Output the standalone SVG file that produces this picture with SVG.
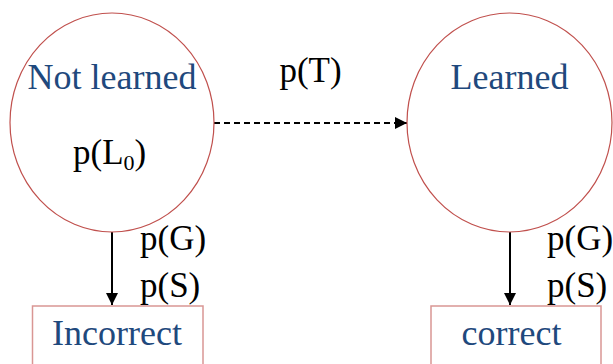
<svg xmlns="http://www.w3.org/2000/svg" width="613" height="364" viewBox="0 0 613 364">
<defs>
<style>
.state{fill:#ffffff;stroke:#c0504d;stroke-width:1.2}
.box{fill:#ffffff;stroke:#d99694;stroke-width:1.5}
.lbl{font-family:'Liberation Serif','Times New Roman',Times,serif;font-size:36px;fill:#1f497d;text-anchor:middle}
.prob{font-family:'Liberation Serif','Times New Roman',Times,serif;font-size:35px;fill:#000000}
.edge{stroke:#000000;stroke-width:2;fill:none}
</style>
<marker id="ah" viewBox="0 0 10 10" refX="10" refY="5" markerWidth="12" markerHeight="12" markerUnits="userSpaceOnUse" orient="auto">
<path d="M0,0 L10,5 L0,10 z" fill="#000000"/>
</marker>
</defs>
<g id="connectors">
<line class="edge" x1="214" y1="123" x2="407" y2="123" stroke-dasharray="6,4" marker-end="url(#ah)"/>
<line class="edge" x1="112" y1="232" x2="112" y2="305" marker-end="url(#ah)"/>
<line class="edge" x1="510" y1="232" x2="510" y2="305" marker-end="url(#ah)"/>
<text class="prob" font-family="Liberation Serif, serif" x="310.5" y="82" text-anchor="middle">p(T)</text>
<text class="prob" font-family="Liberation Serif, serif" x="140" y="250">p(G)</text>
<text class="prob" font-family="Liberation Serif, serif" x="140" y="297">p(S)</text>
<text class="prob" font-family="Liberation Serif, serif" x="547" y="250">p(G)</text>
<text class="prob" font-family="Liberation Serif, serif" x="547" y="297">p(S)</text>
</g>
<g id="not-learned">
<ellipse class="state" cx="112" cy="122.5" rx="102" ry="109.5"/>
<text class="lbl" font-family="Liberation Serif, serif" x="112" y="89">Not learned</text>
<text class="prob" font-family="Liberation Serif, serif" x="73" y="164">p(L<tspan font-size="22" dy="6">0</tspan><tspan dy="-6">)</tspan></text>
</g>
<g id="learned">
<ellipse class="state" cx="509.5" cy="122.5" rx="102.5" ry="109.5"/>
<text class="lbl" font-family="Liberation Serif, serif" x="509.5" y="89">Learned</text>
</g>
<g id="incorrect">
<rect class="box" x="32.5" y="306" width="170.5" height="70"/>
<text class="lbl" font-family="Liberation Serif, serif" x="117" y="345">Incorrect</text>
</g>
<g id="correct">
<rect class="box" x="431" y="306" width="170" height="70"/>
<text class="lbl" font-family="Liberation Serif, serif" x="511.5" y="345">correct</text>
</g>
</svg>
